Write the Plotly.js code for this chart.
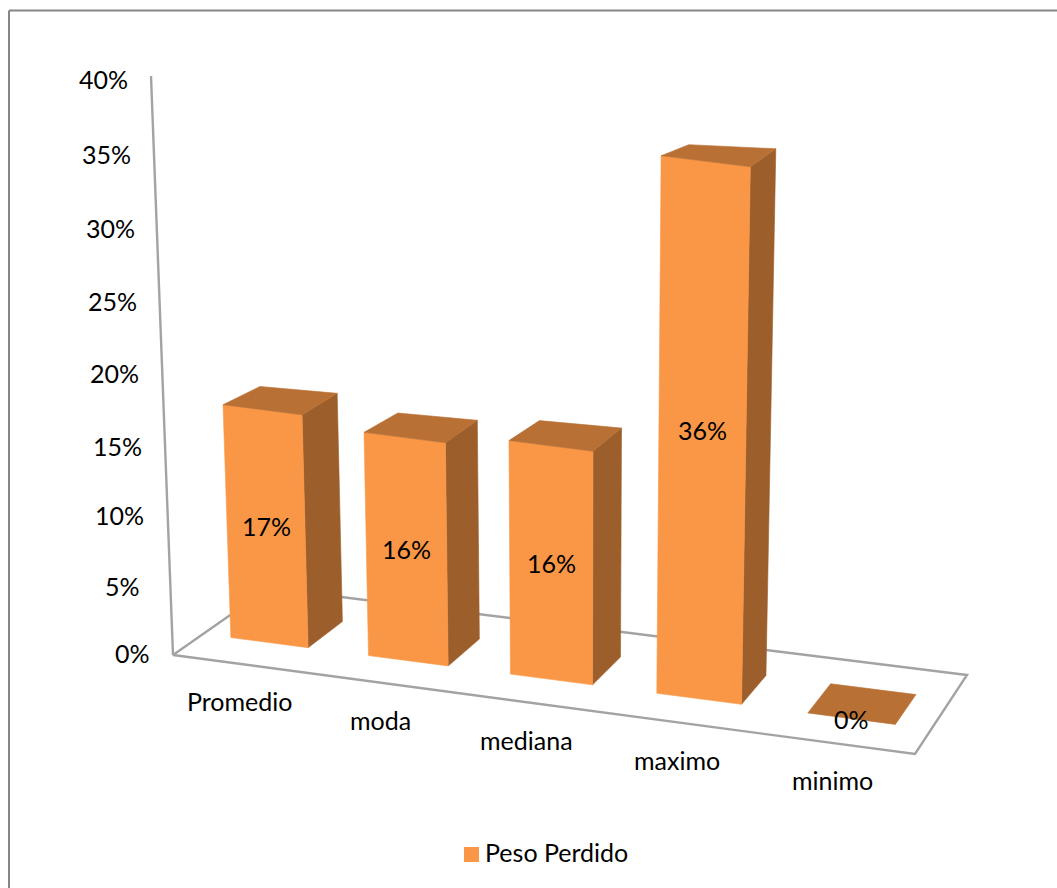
<!DOCTYPE html>
<html lang="es">
<head>
<meta charset="utf-8">
<title>Peso Perdido</title>
<script src="https://cdn.plot.ly/plotly-3.0.1.min.js"></script>
<style>html,body{margin:0;padding:0;background:#fff}#chart{width:1057px;height:888px}</style>
</head>
<body>
<div id="chart"></div>
<script>
// Chart data
const categories = ['Promedio', 'moda', 'mediana', 'maximo', 'minimo'];
const pesoPerdido = [17, 16, 16, 36, 0];
const seriesName = 'Peso Perdido';
const tickValues = [0, 5, 10, 15, 20, 25, 30, 35, 40];
const tickLabels = ['0%', '5%', '10%', '15%', '20%', '25%', '30%', '35%', '40%'];

// Pseudo-3D view: the floor plane's four corners as seen on the page
const floorCorners = { a: [173, 655], b: [915, 754], c: [967, 675], d: [269, 588] };
const wallTop = [151, 76];
const unitPx = 14.48;                 // page pixels per percentage point on the wall
const barUnitPx = [13.7, 13.95, 14.6, 14.93, 15]; // same, at each bar's depth
const backLeftShrink = 0.968;         // rear corners of a bar appear slightly shorter
const backRightShrink = 0.98;
const barSpan = [0.205, 0.77];        // bar extent within its category slot
const barDepth = [0.30, 0.68];        // bar extent across the floor
const vanishX = 575, lean = 9.8e-5;   // verticals converge on a point below the chart
const tickLabelX = [132, 122, 119, 117, 114, 112, 110, 106, 103];
const tickLabelNudge = [0, 5, 5, 8, 7, 7, 5, 3, 0];

const colors = {
  front: '#F99747', top: '#B97034', side: '#9C5F2C',
  axis: '#A3A3A3', border: '#868686', text: '#000000'
};
const fontFamily = 'Lato, "Open Sans", sans-serif';
const fontSize = 25;
const textLift = 2;                   // optical centring of the label font

// Homography taking the unit square onto the floor quadrilateral
const { a, b, c, d } = floorCorners;
const dx1 = b[0] - c[0], dx2 = d[0] - c[0], sx = a[0] - b[0] + c[0] - d[0];
const dy1 = b[1] - c[1], dy2 = d[1] - c[1], sy = a[1] - b[1] + c[1] - d[1];
const den = dx1 * dy2 - dx2 * dy1;
const g = (sx * dy2 - dx2 * sy) / den;
const h = (dx1 * sy - sx * dy1) / den;

function floorPoint(u, t) {
  const s = u / categories.length;
  const w = g * s + h * t + 1;
  return [
    ((b[0] - a[0] + g * b[0]) * s + (d[0] - a[0] + h * d[0]) * t + a[0]) / w,
    ((b[1] - a[1] + g * b[1]) * s + (d[1] - a[1] + h * d[1]) * t + a[1]) / w
  ];
}

// Raise a floor point by a height in pixels, leaning towards the vanishing line
function raise(p, heightPx) {
  return [p[0] + (p[0] - vanishX) * lean * heightPx, p[1] - heightPx];
}

// Page position to axis units: x stays in page units, y is in percentage points
const toAxisY = py => (a[1] - py) / unitPx;

function polygon(points, fill) {
  const xs = points.map(p => p[0]), ys = points.map(p => toAxisY(p[1]));
  return {
    x: [...xs, xs[0]], y: [...ys, ys[0]], type: 'scatter', mode: 'lines',
    fill: 'toself', fillcolor: fill, line: { width: 0.6, color: fill },
    hoverinfo: 'skip', showlegend: false
  };
}

function polyline(points, color) {
  return {
    x: points.map(p => p[0]), y: points.map(p => toAxisY(p[1])),
    type: 'scatter', mode: 'lines', line: { width: 2.4, color },
    hoverinfo: 'skip', showlegend: false
  };
}

const traces = [
  polyline([wallTop, a], colors.axis),
  polyline([d, a, b, c, d], colors.axis)
];
const annotations = [];

function addText(text, x, py) {
  annotations.push({
    x, y: toAxisY(py - textLift), xref: 'x', yref: 'y', text, showarrow: false,
    xanchor: 'center', yanchor: 'middle',
    font: { family: fontFamily, size: fontSize, color: colors.text }
  });
}

tickValues.forEach((v, i) => {
  addText(tickLabels[i], tickLabelX[i], a[1] - v * (a[1] - wallTop[1] - 5) / 40 + tickLabelNudge[i]);
});

categories.forEach((name, i) => {
  const k = barUnitPx[i];
  const height = pesoPerdido[i] * k;
  const fl = floorPoint(i + barSpan[0], barDepth[0]);
  const fr = floorPoint(i + barSpan[1], barDepth[0]);
  const br = floorPoint(i + barSpan[1], barDepth[1]);
  const bl = floorPoint(i + barSpan[0], barDepth[1]);
  const tfl = raise(fl, height), tfr = raise(fr, height);
  const tbr = raise(br, height * backRightShrink), tbl = raise(bl, height * backLeftShrink);

  if (pesoPerdido[i] > 0) {
    traces.push(polygon([fr, br, tbr, tfr], colors.side));
    traces.push(polygon([fl, fr, tfr, tfl], colors.front));
  }
  traces.push(polygon([tfl, tfr, tbr, tbl], colors.top));

  // Value label at the middle of the front face
  const cx = (fl[0] + fr[0] + tfl[0] + tfr[0]) / 4;
  const cy = (fl[1] + fr[1] + tfl[1] + tfr[1]) / 4;
  addText(pesoPerdido[i] + '%', cx, cy + 2);

  // Category label below the front edge of the floor
  const edge = floorPoint(i + 0.5, 0);
  addText(name, edge[0] - 3, edge[1] + 39);
});

// Legend entry
annotations.push({
  x: 483, y: toAxisY(854 - textLift), xref: 'x', yref: 'y', text: seriesName, showarrow: false,
  xanchor: 'left', yanchor: 'middle',
  font: { family: fontFamily, size: fontSize, color: colors.text }
});

const shapes = [
  { type: 'rect', xref: 'x', yref: 'y', x0: 464, x1: 479, y0: toAxisY(847), y1: toAxisY(862),
    fillcolor: colors.front, line: { width: 0 } },
  { type: 'line', xref: 'x', yref: 'y', x0: 9, x1: 1057, y0: toAxisY(10.5), y1: toAxisY(10.5),
    line: { width: 2, color: colors.border } },
  { type: 'line', xref: 'x', yref: 'y', x0: 9, x1: 9, y0: toAxisY(10.5), y1: toAxisY(888),
    line: { width: 2, color: colors.border } }
];

const layout = {
  width: 1057, height: 888,
  margin: { l: 0, r: 0, t: 0, b: 0 },
  paper_bgcolor: '#ffffff', plot_bgcolor: '#ffffff',
  showlegend: false, hovermode: false,
  xaxis: { range: [0, 1057], visible: false, fixedrange: true },
  yaxis: { range: [toAxisY(888), toAxisY(0)], visible: false, fixedrange: true },
  annotations, shapes
};

Plotly.newPlot('chart', traces, layout, { displayModeBar: false, staticPlot: true });
</script>
</body>
</html>
